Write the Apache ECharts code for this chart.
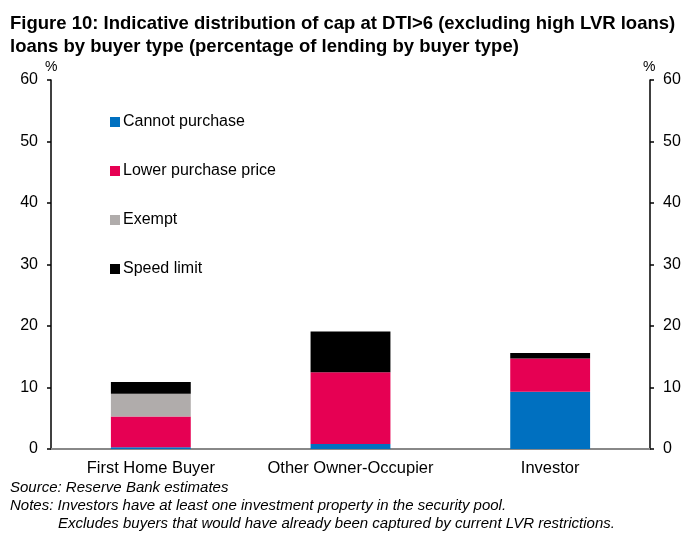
<!DOCTYPE html>
<html>
<head>
<meta charset="utf-8">
<script src="https://cdn.jsdelivr.net/npm/echarts@6/dist/echarts.min.js"></script>
<style>
  html, body { margin: 0; padding: 0; background: #fff; }
  #main { width: 694px; height: 550px; }
</style>
</head>
<body>
<div id="main"></div>
<script>
// 买家类型
var categories = ['First Home Buyer', 'Other Owner-Occupier', 'Investor'];
// 各部分占比 (%)
var cannotPurchase = [0.3, 0.8, 9.3];
var lowerPrice = [5.0, 11.7, 5.4];
var exempt = [3.7, 0, 0];
var speedLimit = [1.9, 6.6, 0.9];
var seriesNames = ['Cannot purchase', 'Lower purchase price', 'Exempt', 'Speed limit'];
var yTicks = [0, 10, 20, 30, 40, 50, 60];

var font = 'Liberation Sans, Arial, sans-serif';
var myChart = echarts.init(document.getElementById('main'));

function axisY(pos) {
    return {
        type: 'value',
        position: pos,
        min: yTicks[0],
        max: yTicks[yTicks.length - 1],
        interval: yTicks[1] - yTicks[0],
        axisLine: { show: true, lineStyle: { color: '#000', width: 1.5 } },
        axisTick: { show: true, length: 4, lineStyle: { color: '#000', width: 1.5 } },
        axisLabel: { color: '#000', fontSize: 16, fontFamily: font, margin: 13 },
        splitLine: { show: false }
    };
}

function bar(name, data, color) {
    return {
        name: name,
        type: 'bar',
        stack: 'total',
        barWidth: '40%',
        data: data,
        itemStyle: { color: color },
        emphasis: { disabled: true }
    };
}

var option = {
    animation: false,
    textStyle: { fontFamily: font },
    grid: { left: 51, right: 44, top: 80, bottom: 101, containLabel: false },
    legend: {
        orient: 'vertical',
        left: 105,
        top: 109,
        itemGap: 33,
        itemWidth: 10,
        itemHeight: 10,
        icon: 'rect',
        textStyle: { fontSize: 16, color: '#000', fontFamily: font, padding: [0, 0, 0, -2] },
        data: seriesNames
    },
    xAxis: {
        type: 'category',
        data: categories,
        axisLine: { show: true, lineStyle: { color: '#888', width: 2 } },
        axisTick: { show: false },
        axisLabel: { color: '#000', fontSize: 16.5, fontFamily: font, margin: 11, interval: 0, hideOverlap: false }
    },
    yAxis: [axisY('left'), axisY('right')],
    series: [
        bar(seriesNames[0], cannotPurchase, '#0070C0'),
        bar(seriesNames[1], lowerPrice, '#E60053'),
        bar(seriesNames[2], exempt, '#B0ACAB'),
        bar(seriesNames[3], speedLimit, '#000000')
    ],
    graphic: [
        { type: 'text', left: 10, top: 12, style: { text: 'Figure 10: Indicative distribution of cap at DTI>6 (excluding high LVR loans)\nloans by buyer type (percentage of lending by buyer type)', font: 'bold 18.5px ' + font, fill: '#000', lineHeight: 23 } },
        { type: 'text', left: 45, top: 60, style: { text: '%', font: '14px ' + font, fill: '#000' } },
        { type: 'text', left: 643, top: 60, style: { text: '%', font: '14px ' + font, fill: '#000' } },
        { type: 'text', left: 10, top: 480, style: { text: 'Source: Reserve Bank estimates', font: 'italic 15px ' + font, fill: '#000' } },
        { type: 'text', left: 10, top: 498, style: { text: 'Notes: Investors have at least one investment property in the security pool.', font: 'italic 15px ' + font, fill: '#000' } },
        { type: 'text', left: 58, top: 516, style: { text: 'Excludes buyers that would have already been captured by current LVR restrictions.', font: 'italic 15px ' + font, fill: '#000' } }
    ]
};

myChart.setOption(option);
</script>
</body>
</html>
